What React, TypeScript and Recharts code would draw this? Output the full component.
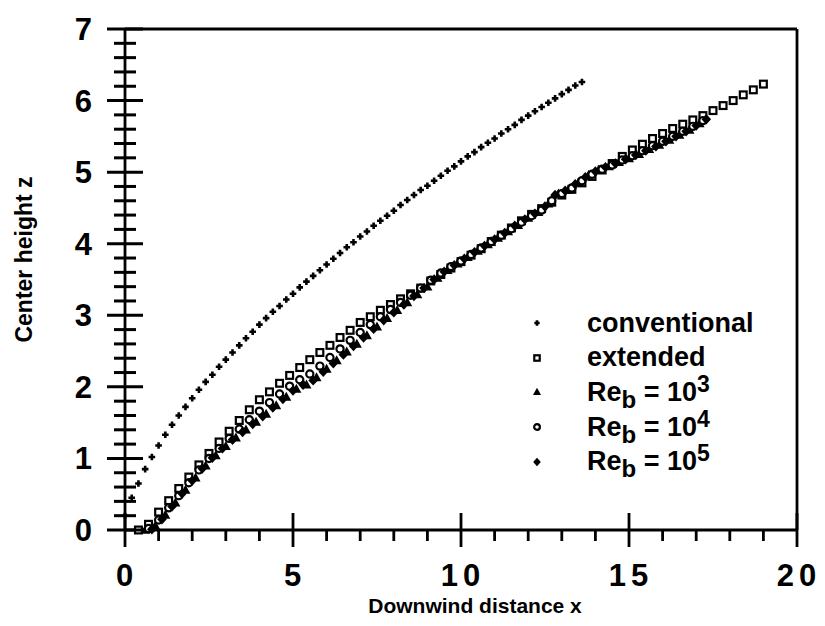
import { Scatter, XAxis, YAxis, ScatterChart } from 'recharts';

// values (x = downwind distance, z = center height)
const CONV_X = [0, 0.2, 0.4, 0.6, 0.8, 1.0, 1.2, 1.4, 1.6, 1.8, 2.0, 2.2, 2.4, 2.6, 2.8, 3.0, 3.2, 3.4, 3.6, 3.8, 4.0, 4.2, 4.4, 4.6, 4.8, 5.0, 5.2, 5.4, 5.6, 5.8, 6.0, 6.2, 6.4, 6.6, 6.8, 7.0, 7.2, 7.4, 7.6, 7.8, 8.0, 8.2, 8.4, 8.6, 8.8, 9.0, 9.2, 9.4, 9.6, 9.8, 10.0, 10.2, 10.4, 10.6, 10.8, 11.0, 11.2, 11.4, 11.6, 11.8, 12.0, 12.2, 12.4, 12.6, 12.8, 13.0, 13.2, 13.4, 13.6];
const CONV_Z = [0.2, 0.45, 0.65, 0.85, 1.02, 1.18, 1.33, 1.47, 1.6, 1.72, 1.84, 1.96, 2.07, 2.17, 2.28, 2.38, 2.48, 2.58, 2.68, 2.77, 2.87, 2.96, 3.05, 3.13, 3.22, 3.3, 3.39, 3.47, 3.55, 3.63, 3.71, 3.79, 3.87, 3.95, 4.02, 4.1, 4.17, 4.25, 4.32, 4.39, 4.46, 4.54, 4.61, 4.68, 4.75, 4.81, 4.88, 4.95, 5.02, 5.08, 5.15, 5.22, 5.28, 5.35, 5.41, 5.47, 5.54, 5.6, 5.66, 5.73, 5.79, 5.85, 5.91, 5.97, 6.03, 6.09, 6.15, 6.21, 6.26];

const EXT_X = [0.4, 0.7, 1.0, 1.3, 1.6, 1.9, 2.2, 2.5, 2.8, 3.1, 3.4, 3.7, 4.0, 4.3, 4.6, 4.9, 5.2, 5.5, 5.8, 6.1, 6.4, 6.7, 7.0, 7.3, 7.6, 7.9, 8.2, 8.5, 8.8, 9.1, 9.4, 9.7, 10.0, 10.3, 10.6, 10.9, 11.2, 11.5, 11.8, 12.1, 12.4, 12.7, 13.0, 13.3, 13.6, 13.9, 14.2, 14.5, 14.8, 15.1, 15.4, 15.7, 16.0, 16.3, 16.6, 16.9, 17.2, 17.5, 17.8, 18.1, 18.4, 18.7, 19.0];
const EXT_Z = [0, 0.08, 0.25, 0.41, 0.58, 0.74, 0.91, 1.07, 1.23, 1.38, 1.53, 1.68, 1.82, 1.93, 2.05, 2.16, 2.27, 2.38, 2.48, 2.58, 2.69, 2.79, 2.9, 2.98, 3.07, 3.15, 3.23, 3.3, 3.38, 3.48, 3.57, 3.66, 3.75, 3.84, 3.93, 4.03, 4.12, 4.22, 4.32, 4.41, 4.49, 4.58, 4.68, 4.76, 4.85, 4.94, 5.03, 5.12, 5.22, 5.31, 5.39, 5.47, 5.54, 5.61, 5.67, 5.73, 5.79, 5.86, 5.93, 6.0, 6.08, 6.15, 6.23];

const RE3_X = [0.6, 0.9, 1.2, 1.5, 1.8, 2.1, 2.4, 2.7, 3.0, 3.3, 3.6, 3.9, 4.2, 4.5, 4.8, 5.1, 5.4, 5.7, 6.0, 6.3, 6.6, 6.9, 7.2, 7.5, 7.8, 8.1, 8.4, 8.7, 9.0, 9.3, 9.6, 9.9, 10.2, 10.5, 10.8, 11.1, 11.4, 11.7, 12.0, 12.3, 12.6, 12.9, 13.2, 13.5, 13.8, 14.1, 14.4, 14.7, 15.0, 15.3, 15.6, 15.9, 16.2, 16.5, 16.8, 17.1];
const RE3_Z = [0, 0.06, 0.21, 0.38, 0.56, 0.73, 0.9, 1.04, 1.17, 1.29, 1.4, 1.51, 1.62, 1.74, 1.86, 1.97, 2.03, 2.13, 2.25, 2.37, 2.49, 2.6, 2.72, 2.84, 2.96, 3.07, 3.18, 3.29, 3.4, 3.52, 3.63, 3.72, 3.81, 3.9, 3.99, 4.08, 4.17, 4.26, 4.36, 4.44, 4.56, 4.7, 4.75, 4.86, 4.96, 5.03, 5.08, 5.14, 5.19, 5.25, 5.32, 5.38, 5.45, 5.52, 5.59, 5.68];

const RE4_X = [0.7, 1.0, 1.3, 1.6, 1.9, 2.2, 2.5, 2.8, 3.1, 3.4, 3.7, 4.0, 4.3, 4.6, 4.9, 5.2, 5.5, 5.8, 6.1, 6.4, 6.7, 7.0, 7.3, 7.6, 7.9, 8.2, 8.5, 8.8, 9.1, 9.4, 9.7, 10.0, 10.3, 10.6, 10.9, 11.2, 11.5, 11.8, 12.1, 12.4, 12.7, 13.0, 13.3, 13.6, 13.9, 14.2, 14.5, 14.8, 15.1, 15.4, 15.7, 16.0, 16.3, 16.6, 16.9, 17.2];
const RE4_Z = [0.02, 0.14, 0.31, 0.48, 0.66, 0.84, 1.0, 1.14, 1.28, 1.41, 1.54, 1.66, 1.78, 1.9, 2.01, 2.1, 2.18, 2.29, 2.41, 2.53, 2.65, 2.76, 2.87, 2.98, 3.08, 3.18, 3.28, 3.38, 3.49, 3.59, 3.68, 3.76, 3.85, 3.94, 4.03, 4.12, 4.21, 4.3, 4.39, 4.47, 4.6, 4.7, 4.78, 4.88, 4.97, 5.04, 5.1, 5.17, 5.23, 5.3, 5.37, 5.43, 5.5, 5.57, 5.64, 5.72];

const RE5_X = [0.8, 1.1, 1.4, 1.7, 2.0, 2.3, 2.6, 2.9, 3.2, 3.5, 3.8, 4.1, 4.4, 4.7, 5.0, 5.3, 5.6, 5.9, 6.2, 6.5, 6.8, 7.1, 7.4, 7.7, 8.0, 8.3, 8.6, 8.9, 9.2, 9.5, 9.8, 10.1, 10.4, 10.7, 11.0, 11.3, 11.6, 11.9, 12.2, 12.5, 12.8, 13.1, 13.4, 13.7, 14.0, 14.3, 14.6, 14.9, 15.2, 15.5, 15.8, 16.1, 16.4, 16.7, 17.0, 17.3];
const RE5_Z = [0.01, 0.15, 0.33, 0.51, 0.69, 0.86, 1.01, 1.14, 1.26, 1.37, 1.48, 1.59, 1.71, 1.83, 1.95, 2.03, 2.09, 2.21, 2.33, 2.45, 2.57, 2.69, 2.81, 2.93, 3.04, 3.15, 3.27, 3.38, 3.5, 3.61, 3.7, 3.79, 3.88, 3.97, 4.06, 4.15, 4.25, 4.34, 4.42, 4.52, 4.68, 4.74, 4.83, 4.93, 5.01, 5.07, 5.12, 5.18, 5.24, 5.3, 5.36, 5.43, 5.5, 5.57, 5.65, 5.74];

const X_TICKS = [0, 1, 2, 3, 4, 5, 6, 7, 8, 9, 10, 11, 12, 13, 14, 15, 16, 17, 18, 19, 20];
const Y_TICKS = [0, 0.2, 0.4, 0.6, 0.8, 1, 1.2, 1.4, 1.6, 1.8, 2, 2.2, 2.4, 2.6, 2.8, 3, 3.2, 3.4, 3.6, 3.8, 4, 4.2, 4.4, 4.6, 4.8, 5, 5.2, 5.4, 5.6, 5.8, 6, 6.2, 6.4, 6.6, 6.8, 7];

type MarkerKind = 'plus' | 'square' | 'triangle' | 'circle' | 'diamond';

const SERIES: { name: string; kind: MarkerKind; xs: number[]; zs: number[]; exp?: string }[] = [
  { name: 'conventional', kind: 'plus', xs: CONV_X, zs: CONV_Z },
  { name: 'extended', kind: 'square', xs: EXT_X, zs: EXT_Z },
  { name: 'Re', exp: '3', kind: 'triangle', xs: RE3_X, zs: RE3_Z },
  { name: 'Re', exp: '4', kind: 'circle', xs: RE4_X, zs: RE4_Z },
  { name: 'Re', exp: '5', kind: 'diamond', xs: RE5_X, zs: RE5_Z },
];

const INK = '#000';
const FONT = '"Liberation Sans", Arial, Helvetica, sans-serif';

function Marker({ kind, cx, cy, s = 1 }: { kind: MarkerKind; cx: number; cy: number; s?: number }) {
  switch (kind) {
    case 'plus':
      return (
        <path
          d={`M${cx - 3.3 * s},${cy}H${cx + 3.3 * s}M${cx},${cy - 3.3 * s}V${cy + 3.3 * s}`}
          stroke={INK}
          strokeWidth={2.6}
        />
      );
    case 'square':
      return (
        <rect x={cx - 3.4 * s} y={cy - 3.4 * s} width={6.8 * s} height={6.8 * s} fill="#fff" stroke={INK} strokeWidth={2.2} />
      );
    case 'triangle':
      return (
        <path d={`M${cx},${cy - 5.2 * s}L${cx + 5 * s},${cy + 3.8 * s}L${cx - 5 * s},${cy + 3.8 * s}Z`} fill={INK} />
      );
    case 'circle':
      return <circle cx={cx} cy={cy} r={3.6 * s} fill="#fff" stroke={INK} strokeWidth={2.2} />;
    default:
      return <path d={`M${cx},${cy - 5.2 * s}L${cx + 4.8 * s},${cy}L${cx},${cy + 5.2 * s}L${cx - 4.8 * s},${cy}Z`} fill={INK} />;
  }
}

const isMajorX = (v: number) => v % 5 === 0;
const isMajorY = (v: number) => Math.abs(v - Math.round(v)) < 1e-6;

function BottomTick({ x, y, payload }: any) {
  const major = isMajorX(payload.value);
  return (
    <g>
      <line x1={x} x2={x} y1={major ? y - 17 : y} y2={y + (major ? 17 : 11)} stroke={INK} strokeWidth={2.8} />
      {major && (
        <text x={x + 2} y={y + 56} textAnchor="middle" fontFamily={FONT} fontWeight="bold" fontSize={31} letterSpacing={5} fill={INK}>
          {payload.value}
        </text>
      )}
    </g>
  );
}

function TopTick({ x, y, payload }: any) {
  const major = isMajorX(payload.value);
  return <line x1={x} x2={x} y1={y - (major ? 17 : 11)} y2={major ? y + 17 : y} stroke={INK} strokeWidth={2.8} />;
}

function SideTick({ x, y, payload, label }: any) {
  const major = isMajorY(payload.value);
  const half = major ? 18 : 11;
  return (
    <g>
      <line x1={x - half} x2={x + half} y1={y} y2={y} stroke={INK} strokeWidth={3} />
      {label && major && (
        <text x={x - 33} y={y + 11} textAnchor="end" fontFamily={FONT} fontWeight="bold" fontSize={31} fill={INK}>
          {Math.round(payload.value)}
        </text>
      )}
    </g>
  );
}

function YTitle({ viewBox }: any) {
  const cy = viewBox.y + viewBox.height / 2 - 20;
  return (
    <text
      x={24}
      y={cy}
      transform={`rotate(-90 24 ${cy})`}
      textAnchor="middle"
      dominantBaseline="central"
      fontFamily={FONT}
      fontWeight="bold"
      fontSize={23}
      fill={INK}
    >
      Center height z
    </text>
  );
}

function XTitle({ viewBox }: any) {
  const cx = viewBox.x + viewBox.width / 2 + 14;
  return (
    <text x={cx} y={viewBox.y + 83} textAnchor="middle" fontFamily={FONT} fontWeight="bold" fontSize={21} fill={INK}>
      Downwind distance x
    </text>
  );
}

const LEGEND_TOP = 323;
const LEGEND_STEP = 34.7;

function Legend() {
  return (
    <>
      {SERIES.map((s, i) => (
        <div
          key={i}
          style={{
            position: 'absolute',
            left: 527,
            top: LEGEND_TOP + i * LEGEND_STEP - 17,
            height: 34,
            display: 'flex',
            alignItems: 'center',
            fontFamily: FONT,
            fontWeight: 'bold',
            fontSize: 27,
            whiteSpace: 'nowrap',
          }}
        >
          <svg width={20} height={20} style={{ marginRight: 40 }}>
            <Marker kind={s.kind} cx={10} cy={10} s={0.8} />
          </svg>
          {s.exp ? (
            <span>
              Re<span style={{ position: 'relative', top: 7, fontSize: 24 }}>b</span> = 10
              <span style={{ position: 'relative', top: -9, fontSize: 23 }}>{s.exp}</span>
            </span>
          ) : (
            <span>{s.name}</span>
          )}
        </div>
      ))}
    </>
  );
}

export default function App() {
  return (
    <div style={{ position: 'absolute', left: 0, top: 0, width: 825, height: 626, background: '#fff' }}>
      <ScatterChart width={825} height={626} margin={{ top: 28, right: 27, bottom: 36, left: 0 }}>
        <XAxis
          xAxisId="b"
          dataKey="x"
          type="number"
          domain={[0, 20]}
          ticks={X_TICKS}
          interval={0}
          height={60}
          tickSize={0}
          tickMargin={0}
          tickLine={false}
          axisLine={{ stroke: INK, strokeWidth: 2.8 }}
          tick={(p: any) => <BottomTick {...p} />}
          label={{ content: (p: any) => <XTitle {...p} /> }}
        />
        <XAxis
          xAxisId="t"
          dataKey="x"
          type="number"
          orientation="top"
          domain={[0, 20]}
          ticks={X_TICKS}
          interval={0}
          height={1}
          tickSize={0}
          tickMargin={0}
          tickLine={false}
          axisLine={{ stroke: INK, strokeWidth: 2.8 }}
          tick={(p: any) => <TopTick {...p} />}
        />
        <YAxis
          yAxisId="l"
          dataKey="z"
          type="number"
          domain={[0, 7]}
          ticks={Y_TICKS}
          interval={0}
          width={125}
          tickSize={0}
          tickMargin={0}
          tickLine={false}
          axisLine={{ stroke: INK, strokeWidth: 2.8 }}
          tick={(p: any) => <SideTick {...p} label />}
          label={{ content: (p: any) => <YTitle {...p} /> }}
        />
        <YAxis
          yAxisId="r"
          dataKey="z"
          type="number"
          orientation="right"
          domain={[0, 7]}
          ticks={Y_TICKS}
          interval={0}
          width={1}
          tickSize={0}
          tickMargin={0}
          tickLine={false}
          axisLine={{ stroke: INK, strokeWidth: 2.8 }}
          tick={(p: any) => <SideTick {...p} />}
        />
        <Scatter xAxisId="t" yAxisId="r" data={[]} isAnimationActive={false} />
        {SERIES.map((s, i) => (
          <Scatter
            key={i}
            xAxisId="b"
            yAxisId="l"
            name={s.name}
            data={s.xs.map((x, j) => ({ x, z: s.zs[j] }))}
            isAnimationActive={false}
            shape={(p: any) => <Marker kind={s.kind} cx={p.cx} cy={p.cy} />}
          />
        ))}
      </ScatterChart>
      <Legend />
    </div>
  );
}
